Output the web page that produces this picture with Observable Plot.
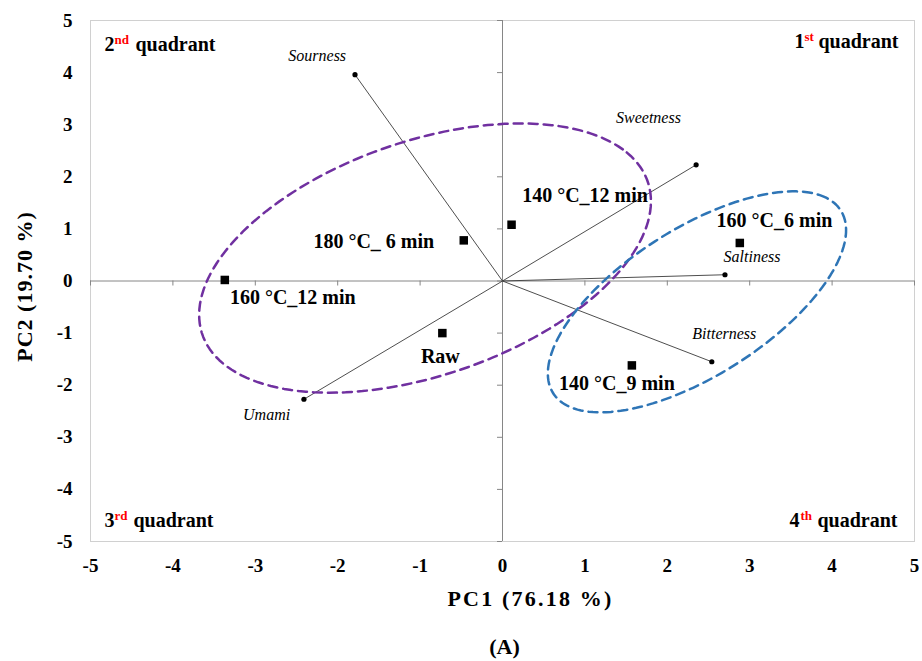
<!DOCTYPE html>
<html><head><meta charset="utf-8">
<script src="https://cdn.jsdelivr.net/npm/d3@7"></script>
<script src="https://cdn.jsdelivr.net/npm/@observablehq/plot@0.6"></script>
<style>
html,body{margin:0;padding:0;background:#fff;}
#chart svg{display:block;}
#chart svg text{font-family:"Liberation Serif","Times New Roman",serif;}
</style></head><body><div id="chart"></div>
<script>
// ---- data ----
const sampleNames = ["160 °C_12 min", "180 °C_ 6 min", "140 °C_12 min", "160 °C_6 min", "Raw", "140 °C_9 min"];
const samplePC1 = [-3.37, -0.47, 0.11, 2.88, -0.73, 1.57];
const samplePC2 = [0.02, 0.78, 1.08, 0.73, -1.00, -1.62];

const attrNames = ["Sourness", "Sweetness", "Saltiness", "Bitterness", "Umami"];
const attrPC1 = [-1.79, 2.35, 2.70, 2.54, -2.41];
const attrPC2 = [3.96, 2.23, 0.12, -1.55, -2.27];

const axisTicks = [-5, -4, -3, -2, -1, 0, 1, 2, 3, 4, 5];
const axisTickLabels = ["-5", "-4", "-3", "-2", "-1", "0", "1", "2", "3", "4", "5"];

const groupCenterPC1 = [-0.94, 2.36];
const groupCenterPC2 = [0.44, -0.40];
const groupSemiMajor = [3.18, 2.54];
const groupSemiMinor = [2.02, 1.15];
const groupAngleDeg = [41.0, 51.9];

const quadrantNumbers = ["1", "2", "3", "4"];
const quadrantSuffixes = ["st", "nd", "rd", "th"];
const quadrantWord = "quadrant";

const xTitle = "PC1 (76.18 %)";
const yTitle = "PC2 (19.70 %)";
const panelTag = "(A)";

// ---- layout (pixels) ----
const W = 922, H = 661;
const M = {top: 20, right: 8, bottom: 120, left: 90};
const sampleLabelOffsets = [[68, 23.7], [-90, 8], [73.5, -22.3], [34.7, -16], [-2, 30], [-15, 25]];
const attrLabelOffsets = [[-37.8, -13.6], [-47.7, -41.6], [27, -13], [12.5, -22.7], [-37.3, 20.3]];
// quadrant label pieces: [numberX, suffixX, wordX, baselineY] absolute px; order 1st..4th
const quadrantPos = [[794, 804, 818, 47], [104, 114, 135, 50], [104, 114, 133, 526], [789, 800, 817, 526]];
const groupColors = ["#7030A0", "#2E75B6"];

const serif = "Liberation Serif";

const samples = sampleNames.map((n, i) => ({name: n, x: samplePC1[i], y: samplePC2[i]}));
const attrs = attrNames.map((n, i) => ({name: n, x: attrPC1[i], y: attrPC2[i]}));

function ellipse(i) {
  const th = groupAngleDeg[i] * Math.PI / 180, a = groupSemiMajor[i], b = groupSemiMinor[i];
  const pts = [];
  for (let k = 0; k < 160; k++) {
    const t = 2 * Math.PI * k / 160;
    pts.push({
      x: groupCenterPC1[i] + a * Math.cos(t) * Math.cos(th) - b * Math.sin(t) * Math.sin(th),
      y: groupCenterPC2[i] + a * Math.cos(t) * Math.sin(th) + b * Math.sin(t) * Math.cos(th)
    });
  }
  return pts;
}

const plotW = W - M.left - M.right, plotH = H - M.top - M.bottom;
const tickLenX = 5 * 10 / plotW, tickLenY = 5 * 10 / plotH;
const T = {fontFamily: serif, fill: "#000"};

const marks = [
  Plot.frame({stroke: "#d0d0d0", strokeWidth: 1}),
  Plot.ruleX([0], {stroke: "#868686", strokeWidth: 1}),
  Plot.ruleY([0], {stroke: "#868686", strokeWidth: 1}),
  Plot.ruleY(axisTicks, {y: d => d, x1: 0, x2: -tickLenX, stroke: "#868686"}),
  Plot.ruleX(axisTicks, {x: d => d, y1: 0, y2: -tickLenY, stroke: "#868686"}),
  Plot.axisX(axisTicks, {...T, tickSize: 0, tickPadding: 17, tickFormat: (d, i) => axisTickLabels[i], fontSize: 19, fontWeight: "bold", label: null}),
  Plot.axisY(axisTicks, {...T, tickSize: 0, tickPadding: 18, tickFormat: (d, i) => axisTickLabels[i], fontSize: 19, fontWeight: "bold", label: null}),
  Plot.link(attrs, {x1: 0, y1: 0, x2: "x", y2: "y", stroke: "#3a3a3a", strokeWidth: 0.9}),
  Plot.dot(attrs, {x: "x", y: "y", r: 2.6, fill: "#000", stroke: "none"}),
  ...groupColors.map((c, i) => Plot.line(ellipse(i), {x: "x", y: "y", curve: "linear-closed", stroke: c, strokeWidth: 2.5, strokeDasharray: "9,6"})),
  Plot.dot(samples, {x: "x", y: "y", symbol: "square", r: 4.8, fill: "#000", stroke: "none"}),
  ...samples.map((s, i) => Plot.text([s], {...T, x: "x", y: "y", text: "name", dx: sampleLabelOffsets[i][0], dy: sampleLabelOffsets[i][1], textAnchor: "middle", lineAnchor: "bottom", fontSize: 20, fontWeight: "bold"})),
  ...attrs.map((s, i) => Plot.text([s], {...T, x: "x", y: "y", text: "name", dx: attrLabelOffsets[i][0], dy: attrLabelOffsets[i][1], textAnchor: "middle", lineAnchor: "bottom", fontSize: 16, fontStyle: "italic"})),
  ...quadrantNumbers.flatMap((q, i) => {
    const [nx, sx, wx, by] = quadrantPos[i];
    const common = {...T, frameAnchor: "top-left", textAnchor: "start", lineAnchor: "bottom", fontWeight: "bold"};
    return [
      Plot.text([q], {...common, dx: nx - M.left, dy: by - M.top, fontSize: 20}),
      Plot.text([quadrantSuffixes[i]], {...common, dx: sx - M.left, dy: by - 7 - M.top, fontSize: 13, fill: "#ff0000"}),
      Plot.text([quadrantWord], {...common, dx: wx - M.left, dy: by - M.top, fontSize: 20})
    ];
  }),
  Plot.text([xTitle], {...T, frameAnchor: "bottom", textAnchor: "middle", dx: 28, dy: 64, lineAnchor: "bottom", fontSize: 22, fontWeight: "bold"}),
  Plot.text([panelTag], {...T, frameAnchor: "bottom", textAnchor: "middle", dx: 2, dy: 112, lineAnchor: "bottom", fontSize: 22, fontWeight: "bold"}),
  Plot.text([yTitle], {...T, frameAnchor: "left", textAnchor: "middle", dx: 31 - M.left, dy: 5.5, rotate: -90, lineAnchor: "bottom", fontSize: 22, fontWeight: "bold"})
];

const chart = Plot.plot({
  width: W, height: H,
  marginTop: M.top, marginRight: M.right, marginBottom: M.bottom, marginLeft: M.left,
  x: {domain: [-5, 5], axis: null},
  y: {domain: [-5, 5], axis: null},
  style: {fontFamily: serif, background: "#fff", color: "#000"},
  marks
});
d3.select(chart).selectAll("text").each(function () {
  const t = this.textContent;
  if (t === xTitle) this.style.letterSpacing = "2.2px";
  if (t === yTitle) this.style.letterSpacing = "1px";
});
document.getElementById("chart").appendChild(chart);
</script>
</body></html>
